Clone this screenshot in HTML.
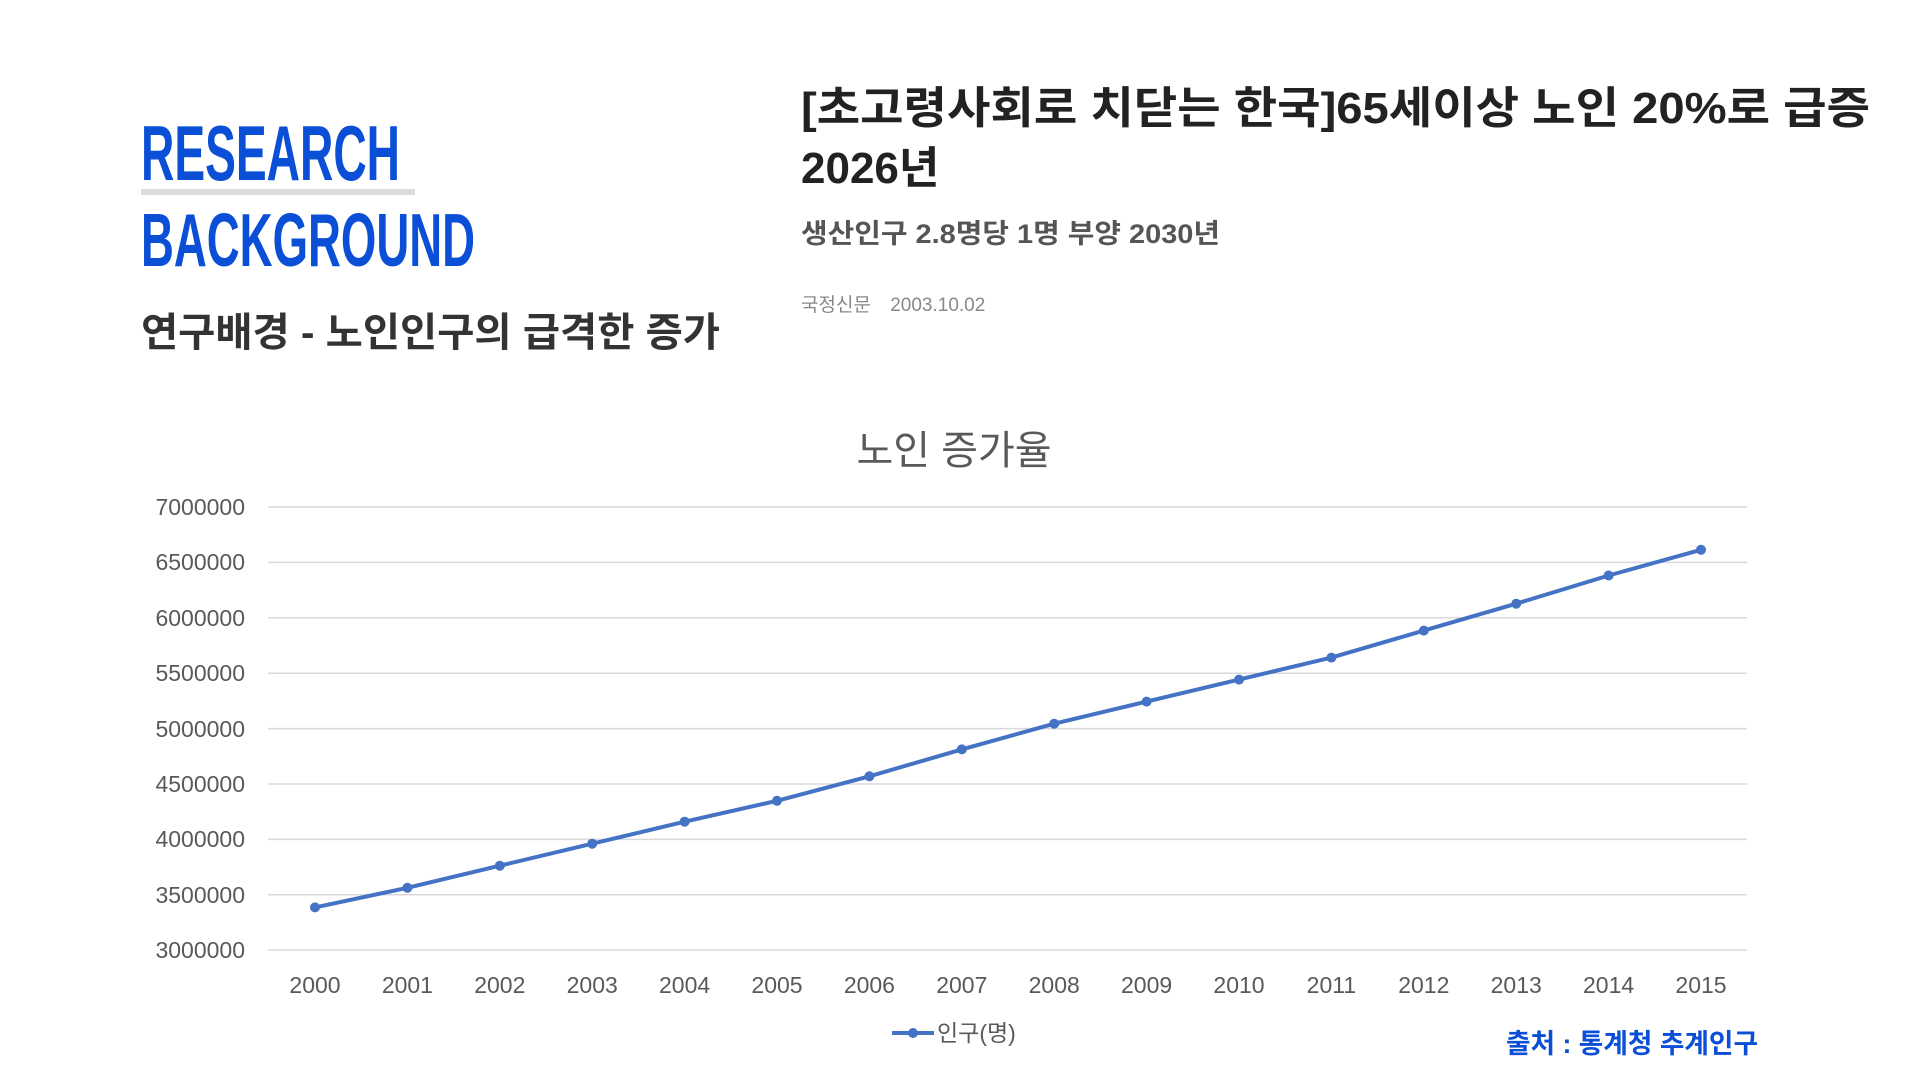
<!DOCTYPE html>
<html><head><meta charset="utf-8"><style>
html,body{margin:0;padding:0;background:#fff;}
svg{display:block;}
</style></head><body>
<svg width="1920" height="1080" viewBox="0 0 1920 1080" xmlns="http://www.w3.org/2000/svg">
<rect width="1920" height="1080" fill="#fff"/>
<g font-family="Liberation Sans, sans-serif" font-weight="bold" fill="#0a4fd6">
<text x="141" y="180" font-size="78" textLength="259" lengthAdjust="spacingAndGlyphs">RESEARCH</text>
<text x="141" y="266" font-size="75" textLength="334" lengthAdjust="spacingAndGlyphs">BACKGROUND</text>
</g>
<rect x="141" y="189" width="274" height="6" fill="#dcdcdc"/>
<text x="141" y="346" font-family="Liberation Sans, 'Noto Sans CJK KR', sans-serif" font-weight="bold" font-size="40" fill="#333" textLength="579" lengthAdjust="spacingAndGlyphs">연구배경 - 노인인구의 급격한 증가</text>
<g font-family="Liberation Sans, 'Noto Sans CJK KR', sans-serif">
<text x="801" y="123" font-size="44" font-weight="bold" fill="#222" textLength="1069" lengthAdjust="spacingAndGlyphs">[초고령사회로 치닫는 한국]65세이상 노인 20%로 급증</text>
<text x="801" y="183" font-size="44" font-weight="bold" fill="#222">2026년</text>
<text x="801" y="243" font-size="27" font-weight="bold" fill="#555" textLength="419" lengthAdjust="spacingAndGlyphs">생산인구 2.8명당 1명 부양 2030년</text>
<text x="801" y="311" font-size="19" fill="#888">국정신문 <tspan dx="14">2003.10.02</tspan></text>
</g>
<text x="954" y="464" text-anchor="middle" font-family="Liberation Sans, 'Noto Sans CJK KR', sans-serif" font-size="40" fill="#595959">노인 증가율</text>
<g stroke="#d9d9d9" stroke-width="1.5">
<line x1="268" x2="1747" y1="507" y2="507"/><line x1="268" x2="1747" y1="562.4" y2="562.4"/>
<line x1="268" x2="1747" y1="617.8" y2="617.8"/><line x1="268" x2="1747" y1="673.2" y2="673.2"/>
<line x1="268" x2="1747" y1="728.6" y2="728.6"/><line x1="268" x2="1747" y1="784" y2="784"/>
<line x1="268" x2="1747" y1="839.4" y2="839.4"/><line x1="268" x2="1747" y1="894.8" y2="894.8"/>
<line x1="268" x2="1747" y1="950" y2="950"/>
</g>
<g font-family="Liberation Sans, sans-serif" font-size="23" fill="#595959" text-anchor="end">
<text x="245" y="515">7000000</text><text x="245" y="570">6500000</text><text x="245" y="626">6000000</text>
<text x="245" y="681">5500000</text><text x="245" y="737">5000000</text><text x="245" y="792">4500000</text>
<text x="245" y="847">4000000</text><text x="245" y="903">3500000</text><text x="245" y="958">3000000</text>
</g>
<g font-family="Liberation Sans, sans-serif" font-size="23" fill="#595959" text-anchor="middle">
<text x="315" y="993">2000</text><text x="407.4" y="993">2001</text><text x="499.8" y="993">2002</text><text x="592.2" y="993">2003</text>
<text x="684.6" y="993">2004</text><text x="777" y="993">2005</text><text x="869.4" y="993">2006</text><text x="961.8" y="993">2007</text>
<text x="1054.2" y="993">2008</text><text x="1146.6" y="993">2009</text><text x="1239" y="993">2010</text><text x="1331.4" y="993">2011</text>
<text x="1423.8" y="993">2012</text><text x="1516.2" y="993">2013</text><text x="1608.6" y="993">2014</text><text x="1701" y="993">2015</text>
</g>
<polyline fill="none" stroke="#4472c4" stroke-width="4" stroke-linejoin="round" points="315,907.4 407.4,887.8 499.8,865.7 592.2,843.7 684.6,821.7 777,800.8 869.4,776.3 961.8,749.4 1054.2,723.7 1146.6,701.6 1239,679.6 1331.4,657.6 1423.8,630.6 1516.2,603.7 1608.6,575.5 1701,549.8"/>
<g fill="#4472c4">
<circle cx="315" cy="907.4" r="5"/><circle cx="407.4" cy="887.8" r="5"/><circle cx="499.8" cy="865.7" r="5"/><circle cx="592.2" cy="843.7" r="5"/>
<circle cx="684.6" cy="821.7" r="5"/><circle cx="777" cy="800.8" r="5"/><circle cx="869.4" cy="776.3" r="5"/><circle cx="961.8" cy="749.4" r="5"/>
<circle cx="1054.2" cy="723.7" r="5"/><circle cx="1146.6" cy="701.6" r="5"/><circle cx="1239" cy="679.6" r="5"/><circle cx="1331.4" cy="657.6" r="5"/>
<circle cx="1423.8" cy="630.6" r="5"/><circle cx="1516.2" cy="603.7" r="5"/><circle cx="1608.6" cy="575.5" r="5"/><circle cx="1701" cy="549.8" r="5"/>
</g>
<line x1="892" x2="934" y1="1033" y2="1033" stroke="#4472c4" stroke-width="4"/>
<circle cx="913" cy="1033" r="5" fill="#4472c4"/>
<text x="937" y="1041" font-family="Liberation Sans, 'Noto Sans CJK KR', sans-serif" font-size="23" fill="#595959">인구(명)</text>
<text x="1506" y="1053" font-family="Liberation Sans, 'Noto Sans CJK KR', sans-serif" font-weight="bold" font-size="27" fill="#0a4fd6" textLength="252" lengthAdjust="spacingAndGlyphs">출처 : 통계청 추계인구</text>
</svg>
</body></html>
